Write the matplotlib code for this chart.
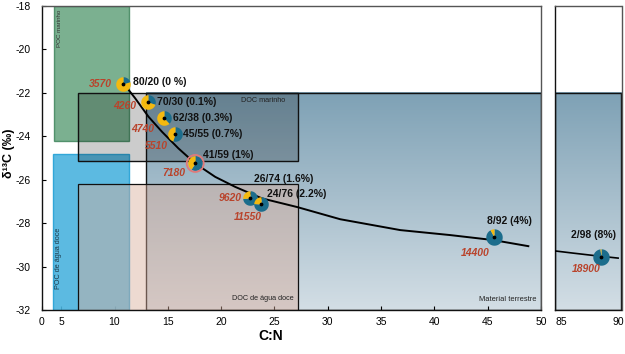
import numpy as np
import matplotlib

matplotlib.use('Agg')
import matplotlib.pyplot as plt
from matplotlib.patches import Rectangle
from matplotlib.colors import LinearSegmentedColormap

plt.rcParams['font.family'] = ['Liberation Sans', 'DejaVu Sans']

# samples: C:N, d13C, marine/terrestrial fraction, age, share label
cn = [10.8, 13.13, 14.6, 15.7, 17.57, 22.67, 23.72, 45.58, 88.5]
d13c = [-21.59, -22.44, -23.18, -23.88, -25.25, -26.85, -27.1, -28.66, -29.58]
marine = [80, 70, 62, 45, 41, 26, 24, 8, 2]
terrestrial = [20, 30, 38, 55, 59, 74, 76, 92, 98]
ages = ['3570', '4260', '4740', '5510', '7180', '9620', '11550', '14400', '18900']
shares = ['0 %', '0.1%', '0.3%', '0.7%', '1%', '1.6%', '2.2%', '4%', '8%']

# mixing curve
curve_cn = [10.84, 11.94, 13.19, 14.45, 16.0, 17.57, 19.45, 21.32, 23.83,
            27.14, 31.17, 36.8, 41.49, 45.53, 48.81]
curve_d13c = [-21.56, -22.25, -23.10, -23.79, -24.56, -25.25, -25.87, -26.33, -26.86,
              -27.26, -27.82, -28.32, -28.55, -28.78, -29.06]
curve2_cn = [84.4, 86.0, 88.0, 90.0]
curve2_d13c = [-29.28, -29.38, -29.50, -29.61]

# end-member fields: (x0, x1, y0, y1)
poc_marine = (4.3, 11.4, -24.2, -18.0)
poc_fresh = (4.25, 11.4, -32.0, -24.8)
doc_marine = (6.6, 27.2, -25.13, -22.0)
doc_fresh = (6.6, 27.2, -32.0, -26.22)
terrestrial_box = (12.94, 50.0, -32.0, -22.0)

yticks = [-18, -20, -22, -24, -26, -28, -30, -32]
xticks = [3.2, 5, 10, 15, 20, 25, 30, 35, 40, 45, 50]
xticklabels = ['0', '5', '10', '15', '20', '25', '30', '35', '40', '45', '50']

YELLOW = '#f4b90f'
TEAL = '#1c6d8c'
RED = '#b9432b'

fig = plt.figure(figsize=(6.25, 3.54), dpi=100)
ax = fig.add_axes([42 / 625, 44 / 354, 499 / 625, 304 / 354])
ax2 = fig.add_axes([555 / 625, 44 / 354, 66.5 / 625, 304 / 354])

grad = LinearSegmentedColormap.from_list('terr', ['#d3dee5', '#7ea1b5'])
g = np.linspace(0, 1, 256).reshape(-1, 1)


def box(a, b, **kw):
    x0, x1, y0, y1 = b
    a.add_patch(Rectangle((x0, y0), x1 - x0, y1 - y0, **kw))


for a, (x0, x1) in ((ax, terrestrial_box[:2]), (ax2, (84.4, 90.3))):
    a.imshow(g, extent=[x0, x1, -32, -22], origin='lower', cmap=grad,
             aspect='auto', zorder=1)
    box(a, (x0, x1, -32, -22), fill=False, edgecolor='#111', lw=1.0, zorder=2)

box(ax, poc_marine, facecolor='#4f966b', alpha=0.75, edgecolor='#2f7a4e', lw=1, zorder=2)
box(ax, poc_fresh, facecolor='#4ab3de', alpha=0.9, edgecolor='#25a2d6', lw=1, zorder=2)
box(ax, doc_marine, facecolor='black', alpha=0.2, edgecolor='none', zorder=3)
box(ax, doc_marine, fill=False, edgecolor='#111', lw=1.0, zorder=3)
box(ax, doc_fresh, facecolor='#d9ad9b', alpha=0.45, edgecolor='none', zorder=3)
box(ax, doc_fresh, fill=False, edgecolor='#111', lw=0.9, zorder=3)

ax.text(4.8, -19.05, 'POC marinho', rotation=90, fontsize=4.5, color='#333',
        ha='center', va='center', zorder=4)
ax.text(4.75, -29.6, 'POC de água doce', rotation=90, fontsize=5.2, color='#1a3a4a',
        ha='center', va='center', zorder=4)
ax.text(26.0, -22.33, 'DOC marinho', fontsize=5.2, color='#222', ha='right',
        va='center', zorder=4)
ax.text(26.85, -31.45, 'DOC de água doce', fontsize=5.2, color='#222', ha='right',
        va='center', zorder=4)
ax.text(49.6, -31.5, 'Material terrestre', fontsize=5.4, color='#222', ha='right',
        va='center', zorder=4)

ax.plot(curve_cn, curve_d13c, color='black', lw=1.4, zorder=5)
ax2.plot(curve2_cn, curve2_d13c, color='black', lw=1.2, zorder=5)


def wedge(start, stop):
    t = np.radians(np.linspace(start, stop, 60))
    return np.column_stack([np.r_[0, np.cos(t), 0], np.r_[0, np.sin(t), 0]])


# label offsets in pixels: (dx, dy, ha) for share label and age label
share_off = [(10, 2, 'left'), (9, 0, 'left'), (9, 0, 'left'), (8, 0, 'left'),
             (8, 8, 'left'), (4, 19, 'left'), (6, 10, 'left'), (16, 16, 'center'),
             (-8, 22, 'center')]
age_off = [(-11, 0, 'right'), (-12, -4, 'right'), (-9, -11, 'right'), (-7, -12, 'right'),
           (-10, -10, 'right'), (-8, 0, 'right'), (-13, -13, 'center'), (-4, -16, 'right'),
           (-15, -12, 'center')]

for i in range(len(cn)):
    a = ax if cn[i] < 60 else ax2
    ft = terrestrial[i] / 100
    size = 110 if i < 7 else 140
    a.scatter([cn[i]], [d13c[i]], marker=wedge(90, 90 - 360 * ft), s=size,
              color=TEAL, linewidths=0, zorder=6)
    a.scatter([cn[i]], [d13c[i]], marker=wedge(90 - 360 * ft, -270), s=size,
              color=YELLOW, linewidths=0, zorder=6)
    a.scatter([cn[i]], [d13c[i]], s=3, color='black', zorder=7)
    if marine[i] == 41:
        a.scatter([cn[i]], [d13c[i]], s=150, facecolors='none',
                  edgecolors='#e07a7a', linewidths=1.3, zorder=6)
    dx, dy, ha = share_off[i]
    a.annotate(f'{marine[i]}/{terrestrial[i]} ({shares[i]})', (cn[i], d13c[i]),
               xytext=(dx * 0.72, dy * 0.72), textcoords='offset points',
               ha=ha, va='center', fontsize=7.5, fontweight='bold', color='#111', zorder=8)
    dx, dy, ha = age_off[i]
    a.annotate(ages[i], (cn[i], d13c[i]), xytext=(dx * 0.72, dy * 0.72),
               textcoords='offset points', ha=ha, va='center', fontsize=7.5,
               fontweight='bold', fontstyle='italic', color=RED, zorder=8)

ax.set_xlim(3.2, 50)
ax.set_ylim(-32, -18)
ax.set_xticks(xticks)
ax.set_xticklabels(xticklabels)
ax.set_yticks(yticks)
ax.set_yticklabels([str(v) for v in yticks])
ax.tick_params(direction='in', length=3, width=0.8, labelsize=7.5)
ax.tick_params(axis='x', pad=5)
ax.tick_params(axis='y', pad=8)

ax2.set_xlim(84.4, 90.3)
ax2.set_ylim(-32, -18)
ax2.set_xticks([85, 90])
ax2.set_yticks([])
ax2.tick_params(direction='in', length=0, labelsize=7.5, pad=5)

for a in (ax, ax2):
    for side in ('top', 'right'):
        a.spines[side].set_color('#555')
    for side in ('left', 'bottom'):
        a.spines[side].set_color('#111')
    for s in a.spines.values():
        s.set_linewidth(1.0)
    a.spines['top'].set_zorder(9)

fig.text(9 / 625, 1 - 153 / 354, 'δ¹³C (‰)', rotation=90, ha='center', va='center',
         fontsize=9, fontweight='bold')
fig.text(271 / 625, 1 - 336 / 354, 'C:N', ha='center', va='center',
         fontsize=10, fontweight='bold')

fig.savefig('out.png', dpi=100)
